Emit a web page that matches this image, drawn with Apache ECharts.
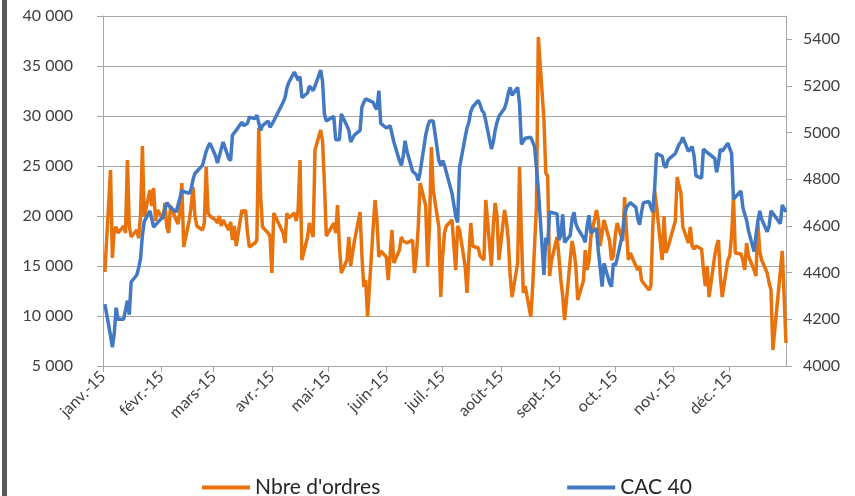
<!DOCTYPE html>
<html>
<head>
<meta charset="utf-8">
<script src="https://cdn.jsdelivr.net/npm/echarts@6/dist/echarts.min.js"></script>
<style>
  html, body { margin: 0; padding: 0; background: #fff; }
  #wrap { position: relative; width: 855px; height: 496px; }
  #bar { position: absolute; left: 2px; top: 0; width: 5px; height: 496px; background: #595959; }
  #chart { position: absolute; left: 0; top: 0; width: 855px; height: 496px; }
</style>
</head>
<body>
<div id="wrap">
  <div id="chart"></div>
  <div id="bar"></div>
</div>
<script>
const monthLabels = ['janv.-15', 'févr.-15', 'mars-15', 'avr.-15', 'mai-15', 'juin-15',
  'juil.-15', 'août-15', 'sept.-15', 'oct.-15', 'nov.-15', 'déc.-15'];
const holidays = ['2015-01-01', '2015-04-03', '2015-04-06', '2015-05-01', '2015-12-25'];

// nombre d'ordres, one value per trading day (month per row)
const ordres = [
  14400, 24600, 15800, 18600, 18900, 18300, 19000, 18300, 25600, 19000, 17900, 18600, 17800, 20000, 27000, 19900, 22600, 21000, 22800, 19500, 20600,
  19700, 21300, 18900, 18300, 21000, 19600, 19200, 20500, 23300, 16900, 19600, 21000, 22900, 20000, 19000, 18600, 19300, 24900, 20300, 20000,
  19600, 19300, 20000, 19000, 19600, 18600, 19400, 17600, 19000, 17000, 20600, 20300, 20600, 18300, 16900, 17300, 17600, 28800, 22000, 18900, 18300, 18000,
  14300, 20300, 18300, 17300, 20300, 19800, 20300, 19500, 20600, 25600, 15600, 17900, 19300, 18500, 17900, 26600, 28600, 27500, 23300, 18000,
  19300, 18300, 21100, 17000, 14300, 15600, 17900, 15000, 16300, 17500, 20400, 16000, 12900, 13600, 9900, 18900, 21600, 19600, 15900, 16500,
  15900, 13600, 16000, 18600, 15300, 16600, 17900, 17500, 17600, 17300, 17600, 14300, 16000, 18900, 23300, 21000, 14900, 19000, 26900, 22600, 18900, 11900,
  16000, 18300, 19000, 19600, 17000, 14600, 19000, 18600, 15000, 12300, 16000, 19300, 17000, 16800, 16000, 15800, 15600, 21600, 15000, 19000, 21300, 20000, 15600,
  20600, 19500, 17600, 14000, 11900, 15300, 24900, 18000, 12300, 13000, 9900, 13000, 17000, 21000, 37900, 29600, 24300, 24000, 14000, 15500, 17900,
  15900, 13600, 12000, 9600, 15600, 17500, 16500, 15000, 11600, 13500, 16600, 14600, 15500, 17900, 20600, 19600, 17000, 17000, 19600, 17500, 15600, 16000,
  18000, 19300, 17500, 21900, 18500, 15600, 16300, 15000, 14600, 15000, 13600, 13300, 12600, 13000, 18900, 22500, 21000, 15600, 20000, 16300, 16800, 16600,
  19500, 23900, 23000, 22300, 18900, 17300, 18900, 17000, 16700, 17000, 16700, 14600, 13000, 15000, 11900, 16000, 17000, 17600, 14000, 11900, 15600,
  16000, 18000, 21900, 16300, 16200, 15600, 14600, 17300, 16000, 14600, 14000, 19300, 16500, 15600, 14300, 13300, 12600, 6600, 14500, 16500, 12000, 7300
];

// CAC 40 close, one value per trading day (month per row)
const cac40 = [
  4265, 4130, 4080, 4140, 4250, 4200, 4200, 4240, 4280, 4220, 4360, 4390, 4420, 4460, 4560, 4620, 4665, 4630, 4595, 4605, 4610,
  4640, 4670, 4700, 4700, 4680, 4660, 4690, 4720, 4750, 4755, 4740, 4760, 4800, 4825, 4830, 4860, 4890, 4920, 4940, 4955,
  4900, 4870, 4900, 4930, 4960, 4890, 4880, 4990, 4985, 5010, 5045, 5030, 5025, 5040, 5066, 5060, 5075, 5083, 5010, 5030, 5050, 5023,
  5030, 5050, 5130, 5150, 5190, 5215, 5260, 5255, 5225, 5240, 5150, 5170, 5200, 5205, 5180, 5200, 5268, 5220, 5080, 5050,
  5070, 4970, 4965, 4970, 5080, 5030, 5010, 4960, 4965, 4990, 5010, 5110, 5130, 5145, 5150, 5130, 5110, 5100, 5180, 5040,
  5020, 5020, 5030, 5025, 4960, 4880, 4860, 4900, 4965, 4920, 4835, 4830, 4820, 4795, 4830, 4990, 5025, 5050, 5055, 5050, 4880, 4860,
  4880, 4860, 4830, 4740, 4690, 4640, 4615, 4850, 4980, 5020, 5045, 5090, 5110, 5138, 5120, 5095, 5085, 5050, 4930, 4960, 5010, 5045, 5070,
  5105, 5130, 5170, 5194, 5160, 5194, 5120, 4950, 4950, 4976, 4980, 4975, 4940, 4850, 4760, 4390, 4550, 4520, 4660, 4662, 4652,
  4540, 4560, 4650, 4530, 4560, 4630, 4659, 4610, 4590, 4550, 4530, 4600, 4646, 4570, 4590, 4490, 4420, 4340, 4440, 4355, 4340, 4440,
  4430, 4460, 4570, 4650, 4680, 4690, 4700, 4680, 4630, 4605, 4660, 4700, 4705, 4680, 4660, 4760, 4910, 4900, 4860, 4850, 4880, 4890,
  4910, 4930, 4950, 4960, 4980, 4920, 4930, 4940, 4900, 4815, 4805, 4930, 4925, 4915, 4910, 4890, 4830, 4870, 4930, 4920, 4955,
  4950, 4910, 4715, 4720, 4750, 4680, 4650, 4625, 4580, 4490, 4560, 4620, 4665, 4630, 4575, 4600, 4665, 4660, 4610, 4690, 4690, 4660
];

// every calendar day of 2015 is a category, trading days carry the values
const days = [];
const tradingDays = [];
for (let t = Date.UTC(2015, 0, 1); t <= Date.UTC(2015, 11, 31); t += 86400000) {
  const d = new Date(t);
  const s = d.toISOString().slice(0, 10);
  days.push(s);
  const wd = d.getUTCDay();
  if (wd > 0 && wd < 6 && holidays.indexOf(s) < 0) tradingDays.push(s);
}

const isMonthStart = (i, v) => v.slice(8) === '01';
const spaced = v => String(v).replace(/\B(?=(\d{3})+(?!\d))/g, ' ');

const chart = echarts.init(document.getElementById('chart'));
const font = 'Lato, "Open Sans", sans-serif';
const grey = '#a6a6a6';

const option = {
  animation: false,
  textStyle: { fontFamily: font },
  grid: { left: 103, right: 69, top: 16, bottom: 130 },
  legend: {
    left: 197,
    top: 472,
    icon: 'rect',
    itemWidth: 48,
    itemHeight: 4,
    itemGap: 187,
    textStyle: { fontSize: 21, color: '#262626', fontFamily: font },
    data: ["Nbre d'ordres", 'CAC 40']
  },
  xAxis: {
    type: 'category',
    data: days,
    boundaryGap: false,
    axisLine: { lineStyle: { color: grey, width: 1 } },
    axisTick: { interval: isMonthStart, length: 6, lineStyle: { color: grey } },
    axisLabel: {
      interval: isMonthStart,
      rotate: 45,
      margin: 8,
      fontSize: 16,
      color: '#404040',
      formatter: v => monthLabels[parseInt(v.slice(5, 7), 10) - 1]
    },
    splitLine: { show: false }
  },
  yAxis: [
    {
      type: 'value',
      min: 5000,
      max: 40000,
      interval: 5000,
      axisLine: { show: true, lineStyle: { color: grey } },
      axisTick: { show: true, length: 6, lineStyle: { color: grey } },
      axisLabel: { fontSize: 16, color: '#404040', margin: 30, formatter: spaced },
      splitLine: { lineStyle: { color: grey, width: 1 } }
    },
    {
      type: 'value',
      position: 'right',
      min: 4000,
      max: 5500,
      interval: 200,
      axisLine: { show: true, lineStyle: { color: grey } },
      axisTick: { show: true, length: 6, lineStyle: { color: grey } },
      axisLabel: { fontSize: 16, color: '#404040', margin: 17, showMaxLabel: false, formatter: v => String(v) },
      splitLine: { show: false }
    }
  ],
  series: [
    {
      name: "Nbre d'ordres",
      type: 'line',
      yAxisIndex: 0,
      symbol: 'none',
      lineStyle: { color: '#E8720C', width: 3.5 },
      itemStyle: { color: '#E8720C' },
      data: tradingDays.map((d, i) => [d, ordres[i]])
    },
    {
      name: 'CAC 40',
      type: 'line',
      yAxisIndex: 1,
      symbol: 'none',
      lineStyle: { color: '#4279C2', width: 3.5 },
      itemStyle: { color: '#4279C2' },
      data: tradingDays.map((d, i) => [d, cac40[i]])
    }
  ]
};

chart.setOption(option);
</script>
</body>
</html>
